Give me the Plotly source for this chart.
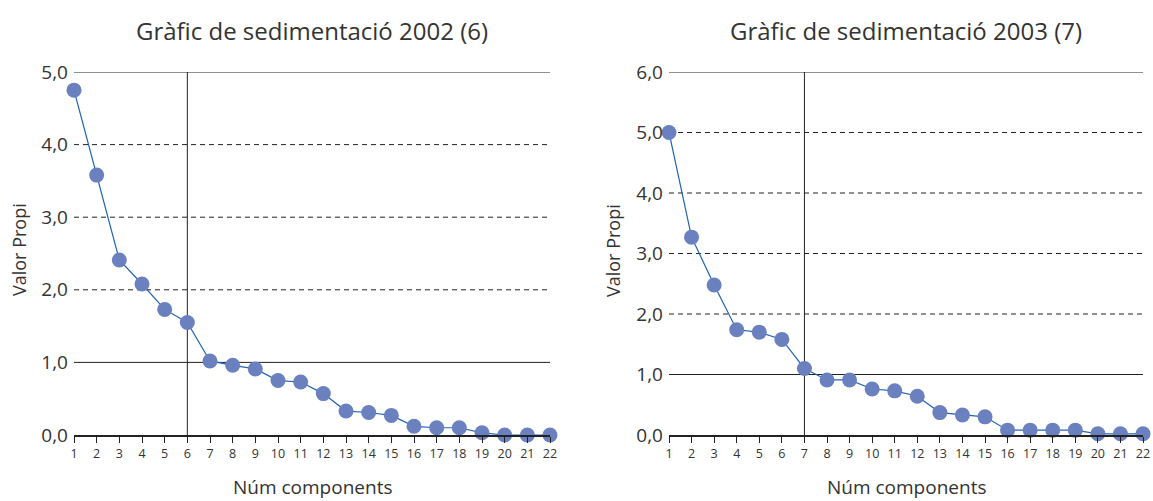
import plotly.graph_objects as go

components = list(range(1, 23))
eigen_2002 = [4.75, 3.58, 2.41, 2.08, 1.73, 1.55, 1.02, 0.96, 0.91, 0.75, 0.73, 0.57,
              0.33, 0.31, 0.27, 0.12, 0.10, 0.10, 0.03, 0.0, 0.0, 0.0]
eigen_2003 = [5.0, 3.27, 2.48, 1.74, 1.70, 1.58, 1.10, 0.91, 0.91, 0.76, 0.73, 0.64,
              0.37, 0.33, 0.30, 0.08, 0.08, 0.08, 0.08, 0.02, 0.02, 0.02]
titles = ["Gràfic de sedimentació 2002 (6)", "Gràfic de sedimentació 2003 (7)"]
cutoffs = [6, 7]
y_max = [5.0, 6.0]
x_title = "Núm components"
y_title = "Valor Propi"

FONT = "Open Sans"
TXT = "#333333"
MARKER = "#6b80bf"
LINE = "#1f63b5"
GRID = "#222222"

W, H = 1153, 501
fig = go.Figure()
series = [eigen_2002, eigen_2003]
domains = [[74 / W, 550 / W], [669 / W, 1143 / W]]
ydom = [1 - 435 / H, 1 - 72 / H]

for i, (vals, ttl, cut, ym) in enumerate(zip(series, titles, cutoffs, y_max)):
    sx = "" if i == 0 else "2"
    fig.add_trace(go.Scatter(
        x=components, y=vals, mode="lines+markers",
        line=dict(color=LINE, width=1.2),
        marker=dict(color=MARKER, size=15),
        xaxis="x" + sx, yaxis="y" + sx, showlegend=False, cliponaxis=False))
    xa = dict(domain=domains[i], range=[1, 22], tickmode="linear", tick0=1, dtick=1,
              ticks="outside", ticklen=6, tickcolor=GRID, tickwidth=1,
              showline=True, linecolor=GRID, linewidth=1.5, showgrid=False,
              zeroline=False, anchor="y" + sx, automargin=False,
              tickfont=dict(family=FONT, size=12.5, color=TXT), fixedrange=True)
    ya = dict(domain=ydom, range=[0, ym], tickmode="linear", tick0=0, dtick=1,
              tickformat=".1f", showgrid=False, zeroline=False, showline=False,
              ticks="", anchor="x" + sx, automargin=False, ticklabelstandoff=5,
              tickfont=dict(family=FONT, size=19, color=TXT), fixedrange=True)
    fig.update_layout(**{"xaxis" + sx: xa, "yaxis" + sx: ya})
    xref = "x" + sx
    yref = "y" + sx
    # horizontal reference lines
    for v in range(1, int(ym) + 1):
        solid = (v == 1 or v == int(ym))
        fig.add_shape(type="line", xref=xref + " domain", yref=yref,
                      x0=0, x1=1, y0=v, y1=v, layer="below",
                      line=dict(color=GRID, width=1, dash="solid" if solid else "5px,4px"))
    # vertical cutoff line
    fig.add_shape(type="line", xref=xref, yref=yref + " domain",
                  x0=cut, x1=cut, y0=0, y1=1, layer="below",
                  line=dict(color=GRID, width=1))
    xc = (domains[i][0] + domains[i][1]) / 2
    fig.add_annotation(text=ttl, xref="paper", yref="paper", x=xc, y=1 - 30 / H,
                       xanchor="center", yanchor="middle",
                       showarrow=False, font=dict(family=FONT, size=24, color=TXT))
    fig.add_annotation(text=x_title, xref="paper", yref="paper", x=xc, y=1 - 487 / H,
                       xanchor="center", yanchor="middle",
                       showarrow=False, font=dict(family=FONT, size=19, color=TXT))
    fig.add_annotation(text=y_title, xref="paper", yref="paper",
                       x=(19 if i == 0 else 613) / W, y=1 - 250 / H, textangle=-90,
                       xanchor="center", yanchor="middle",
                       showarrow=False, font=dict(family=FONT, size=18, color=TXT))

fig.update_layout(width=W, height=H, margin=dict(l=0, r=0, t=0, b=0),
                  paper_bgcolor="white", plot_bgcolor="white", separators=",.",
                  font=dict(family=FONT, color=TXT))
fig.write_html("out.html", config={"displayModeBar": False},
               post_script="document.body.style.margin='0';")
